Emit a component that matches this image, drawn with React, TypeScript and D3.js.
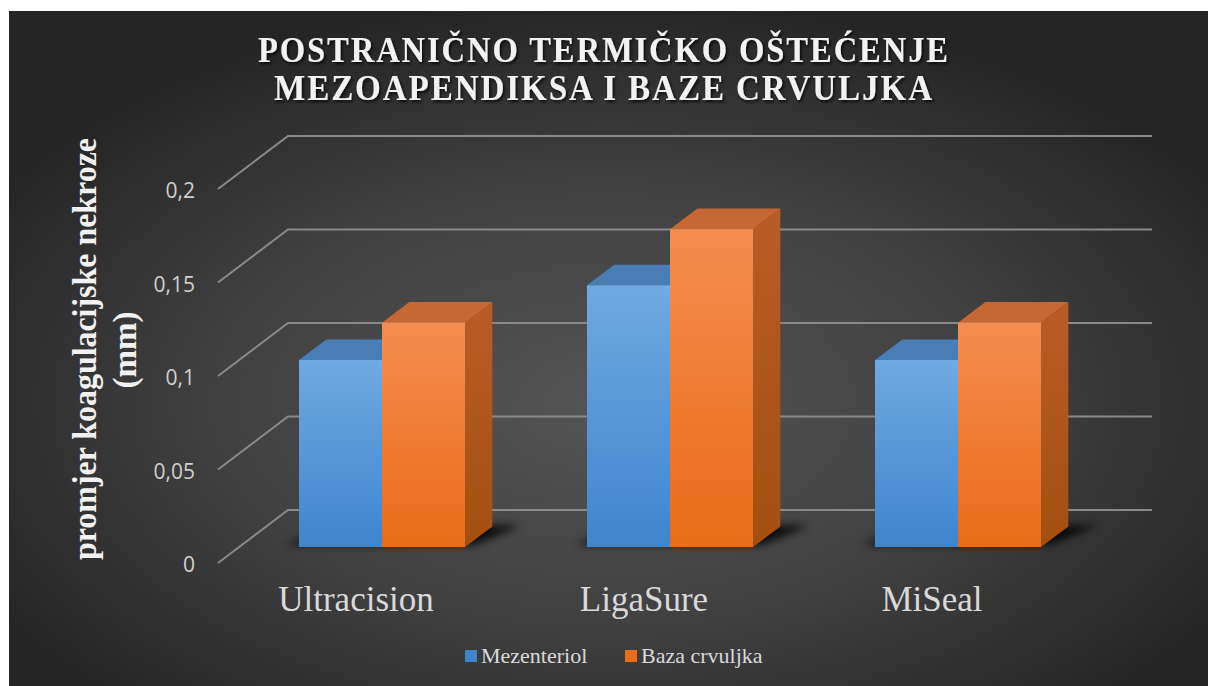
import React from "react";
import * as d3 from "d3";

const categories = ["Ultracision", "LigaSure", "MiSeal"];
const seriesNames = ["Mezenteriol", "Baza crvuljka"];
const mezenteriol = [0.1, 0.14, 0.1];
const bazaCrvuljka = [0.12, 0.17, 0.12];
const yTicks = [0, 0.05, 0.1, 0.15, 0.2];
const tickLabels = ["0", "0,05", "0,1", "0,15", "0,2"];
const titleLines = ["POSTRANIČNO TERMIČKO OŠTEĆENJE", "MEZOAPENDIKSA I BAZE CRVULJKA"];
const yTitleLines = ["promjer koagulacijske nekroze", "(mm)"];

const W = 1209;
const H = 686;
// 3D projection
const DX = 70;
const DY = 53;
const Y0 = 563;
const yScale = d3.scaleLinear().domain([0, 0.2]).range([0, 374]);
const xBand = d3.scaleBand<string>().domain(categories).range([218, 1082]).padding(0);
const groupW = 166;
const inner = d3
  .scaleBand<string>()
  .domain(seriesNames)
  .range([(xBand.bandwidth() - groupW) / 2 - 1, (xBand.bandwidth() + groupW) / 2 - 1])
  .padding(0);
const ZF = 0.3;
const ZB = 0.69;

function p(x: number, v: number, z: number): [number, number] {
  return [x + z * DX, Y0 - yScale(v) - z * DY];
}
function poly(pts: [number, number][]) {
  return pts.map((q) => q.join(",")).join(" ");
}

const palette = {
  Mezenteriol: { front: ["#70a9e3", "#3f85cd"], top: "#4a7db3", side: ["#3a6ea6", "#2f5f92"] },
  "Baza crvuljka": { front: ["#f48d50", "#e96c18"], top: "#c56834", side: ["#b95d25", "#a44f10"] },
} as Record<string, { front: string[]; top: string; side: string[] }>;

export default function App() {
  const data = [mezenteriol, bazaCrvuljka];
  return (
    <svg
      width={W}
      height={H}
      style={{ position: "absolute", left: 0, top: 0, display: "block" }}
    >
      <defs>
        <radialGradient id="bg" cx="50%" cy="58%" r="60%">
          <stop offset="0%" stopColor="#555555" />
          <stop offset="55%" stopColor="#404040" />
          <stop offset="100%" stopColor="#252525" />
        </radialGradient>
        {seriesNames.map((s, i) => (
          <React.Fragment key={s}>
            <linearGradient id={`front${i}`} x1="0" y1="0" x2="0" y2="1">
              <stop offset="0%" stopColor={palette[s].front[0]} />
              <stop offset="100%" stopColor={palette[s].front[1]} />
            </linearGradient>
            <linearGradient id={`side${i}`} x1="0" y1="0" x2="0" y2="1">
              <stop offset="0%" stopColor={palette[s].side[0]} />
              <stop offset="100%" stopColor={palette[s].side[1]} />
            </linearGradient>
          </React.Fragment>
        ))}
        <filter id="blur" x="-20%" y="-50%" width="140%" height="200%">
          <feGaussianBlur stdDeviation="4" />
        </filter>
        <filter id="tshadow" x="-5%" y="-20%" width="110%" height="150%">
          <feDropShadow dx="1.5" dy="2" stdDeviation="1.5" floodColor="#000" floodOpacity="0.8" />
        </filter>
      </defs>
      <rect x={0} y={0} width={W} height={H} fill="#ffffff" />
      <rect x={9} y={11} width={W - 10} height={H - 11} fill="url(#bg)" />

      {/* Title */}
      <g filter="url(#tshadow)">
        {titleLines.map((t, i) => (
          <text
            key={t}
            x={604}
            y={62 + i * 38}
            textAnchor="middle"
            fontFamily="'Liberation Serif', 'DejaVu Serif', serif"
            fontWeight="bold"
            fontSize={35}
            fill="#f2f2f2"
            letterSpacing={2}
            textLength={i === 0 ? 692 : 660}
            lengthAdjust="spacingAndGlyphs"
          >
            {t}
          </text>
        ))}
      </g>

      {/* Y axis title */}
      <g fontFamily="'Liberation Serif', 'DejaVu Serif', serif" fontWeight="bold" fill="#f2f2f2" fontSize={33}>
        <text transform="translate(96,349) rotate(-90)" textAnchor="middle" textLength={422} lengthAdjust="spacingAndGlyphs">
          {yTitleLines[0]}
        </text>
        <text transform="translate(136,350) rotate(-90)" textAnchor="middle">
          {yTitleLines[1]}
        </text>
      </g>

      {/* Gridlines */}
      <g stroke="#8a8a8a" strokeWidth={2} fill="none">
        {yTicks.map((v) => {
          const a = p(218, v, 0);
          const b = p(218, v, 1);
          const c = p(1082, v, 1);
          return <polyline key={v} points={poly([a, b, c])} />;
        })}
      </g>
      {/* Tick labels */}
      <g fontFamily="'Open Sans', 'Liberation Sans', sans-serif" fontSize={21} fill="#d0d0d0" textAnchor="end">
        {yTicks.map((v, i) => {
          const a = p(218, v, 0);
          return (
            <text key={v} x={a[0] - 23} y={a[1] + 9}>
              {tickLabels[i]}
            </text>
          );
        })}
      </g>

      {/* Shadows */}
      <g filter="url(#blur)" fill="#000" opacity={0.85}>
        {categories.map((c) => {
          const x0 = (xBand(c) as number) + (inner(seriesNames[0]) as number);
          const x1 = (xBand(c) as number) + (inner(seriesNames[1]) as number) + inner.bandwidth();
          const pts = [p(x0 - 16, 0, ZF + 0.05), p(x1 + 6, 0, ZF + 0.05), p(x1 + 28, 0, ZB + 0.02), p(x0 + 6, 0, ZB)];
          return <polygon key={c} points={poly(pts)} />;
        })}
      </g>

      {/* Bars */}
      {categories.map((c, ci) => (
        <g key={c}>
          {seriesNames.map((s, si) => {
            const v = data[si][ci];
            const x0 = (xBand(c) as number) + (inner(s) as number);
            const x1 = x0 + inner.bandwidth();
            const front = [p(x0, 0, ZF), p(x1, 0, ZF), p(x1, v, ZF), p(x0, v, ZF)];
            const top = [p(x0, v, ZF), p(x1, v, ZF), p(x1, v, ZB), p(x0, v, ZB)];
            const side = [p(x1, 0, ZF), p(x1, v, ZF), p(x1, v, ZB), p(x1, 0, ZB)];
            return (
              <g key={s}>
                <polygon points={poly(side)} fill={`url(#side${si})`} />
                <polygon points={poly(top)} fill={palette[s].top} />
                <polygon points={poly(front)} fill={`url(#front${si})`} />
              </g>
            );
          })}
        </g>
      ))}

      {/* Category labels */}
      <g fontFamily="'Liberation Serif', 'DejaVu Serif', serif" fontSize={35} fill="#d9d9d9" textAnchor="middle">
        {categories.map((c) => (
          <text key={c} x={(xBand(c) as number) + xBand.bandwidth() / 2 - 6} y={611}>
            {c}
          </text>
        ))}
      </g>

      {/* Legend */}
      <g fontFamily="'Liberation Serif', 'DejaVu Serif', serif" fontSize={22} fill="#d9d9d9">
        {seriesNames.map((s, i) => {
          const lx = i === 0 ? 465 : 625;
          return (
            <g key={s}>
              <rect x={lx} y={650} width={12} height={12} fill={palette[s].front[1]} />
              <text x={lx + 16} y={663}>
                {s}
              </text>
            </g>
          );
        })}
      </g>
    </svg>
  );
}
